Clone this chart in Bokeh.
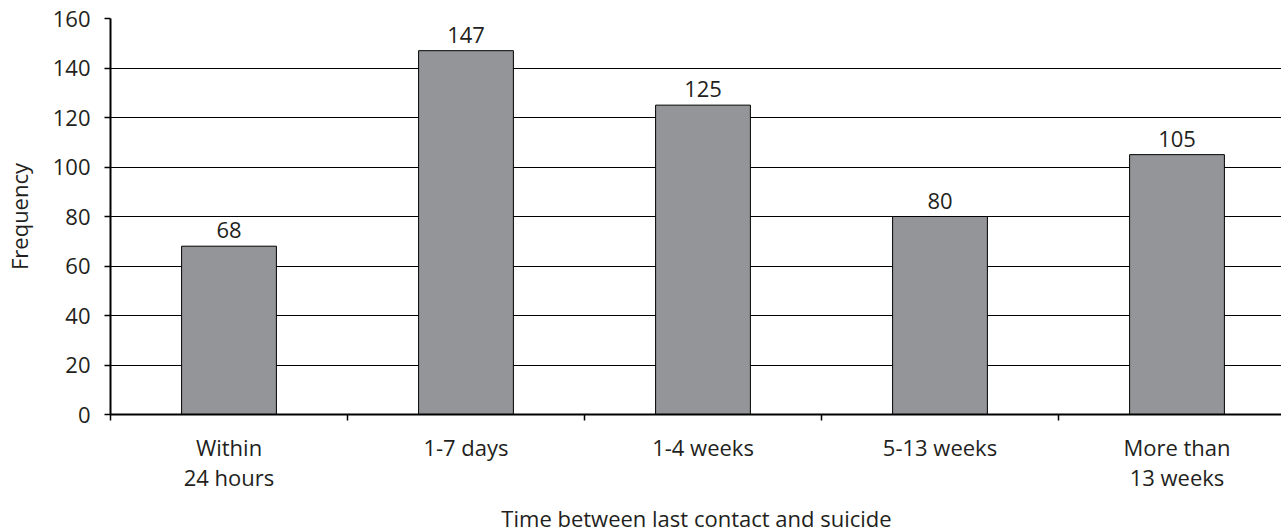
from bokeh.plotting import figure
from bokeh.models import Range1d, FixedTicker, ColumnDataSource
from bokeh.core.properties import value
from bokeh.embed import file_html
from bokeh.resources import INLINE

categories = ["Within\n24 hours", "1-7 days", "1-4 weeks", "5-13 weeks", "More than\n13 weeks"]
frequencies = [68, 147, 125, 80, 105]
y_ticks = [0, 20, 40, 60, 80, 100, 120, 140, 160]
x_title = "Time between last contact and suicide"
y_title = "Frequency"

FONT = "Open Sans"
FS = "22px"
TXT = "#231f20"

positions = [i + 1 for i in range(len(categories))]
boundaries = [i + 0.5 for i in range(len(categories) + 1)]

src = ColumnDataSource(dict(x=positions, top=frequencies, label=[str(v) for v in frequencies]))

p = figure(frame_width=1172, frame_height=396, output_backend="svg", toolbar_location=None,
           x_range=Range1d(0.5, 0.5 + 1172 / 237), y_range=Range1d(0, 160),
           min_border_left=101, min_border_right=0, min_border_top=18, min_border_bottom=0)
p.outline_line_color = None
p.background_fill_color = "white"
p.border_fill_color = "white"

p.vbar(x="x", top="top", width=0.4, source=src, fill_color="#939598",
       line_color="black", line_width=1)
p.text(x="x", y="top", text="label", source=src, text_align="center",
       text_baseline="bottom", y_offset=-8, text_font=value(FONT),
       text_font_size=FS, text_color=TXT)

p.xgrid.grid_line_color = None
p.ygrid.grid_line_color = "black"
p.ygrid.grid_line_width = 1.2
p.ygrid.ticker = FixedTicker(ticks=y_ticks)

xa = p.xaxis[0]
xa.ticker = FixedTicker(ticks=positions, minor_ticks=boundaries)
xa.major_label_overrides = {pos: cat for pos, cat in zip(positions, categories)}
xa.major_tick_line_color = None
xa.major_tick_out = 0
xa.major_tick_in = 0
xa.minor_tick_line_color = "black"
xa.minor_tick_line_width = 1.5
xa.minor_tick_out = 6
xa.minor_tick_in = 0
xa.major_label_standoff = 11
xa.major_label_text_line_height = 1.0
xa.axis_line_color = "black"
xa.axis_line_width = 2
xa.axis_label = x_title
xa.axis_label_standoff = 8
xa.axis_label_text_line_height = 1.0

ya = p.yaxis[0]
ya.ticker = FixedTicker(ticks=y_ticks)
ya.major_tick_out = 6
ya.major_tick_in = 0
ya.major_tick_line_width = 1.5
ya.minor_tick_line_color = None
ya.major_label_standoff = 14
ya.axis_line_color = "black"
ya.axis_line_width = 2
ya.axis_label = y_title
ya.axis_label_standoff = 16

for ax in (xa, ya):
    ax.major_label_text_font = FONT
    ax.major_label_text_font_size = FS
    ax.major_label_text_color = TXT
    ax.axis_label_text_font = FONT
    ax.axis_label_text_font_size = FS
    ax.axis_label_text_font_style = "normal"
    ax.axis_label_text_color = TXT

open("out.html", "w").write(file_html(p, INLINE))
